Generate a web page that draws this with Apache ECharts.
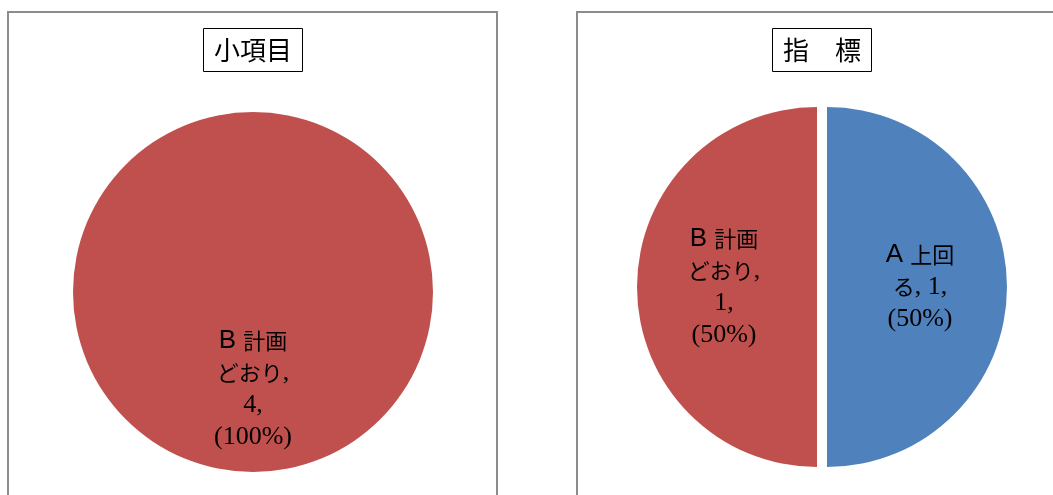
<!DOCTYPE html>
<html>
<head>
<meta charset="utf-8">
<script src="https://cdn.jsdelivr.net/npm/echarts@6/dist/echarts.min.js"></script>
<style>
html,body{margin:0;padding:0;background:#fff;}
#main{width:1053px;height:495px;}
</style>
</head>
<body>
<div id="main"></div>
<script>
// ---- data ----
const titles = ['小項目', '指　標'];
const leftNames = ['B 計画どおり'];
const leftValues = [4];
const rightNames = ['A 上回る', 'B 計画どおり'];
const rightValues = [1, 1];
const colorA = '#4F81BD';
const colorB = '#C0504D';

function toData(names, values) {
  return names.map((n, i) => ({
    name: n, value: values[i],
    itemStyle: { color: n.charAt(0) === 'A' ? colorA : colorB }
  }));
}

// wrap ASCII runs in serif rich style
function richLine(s) {
  return s.replace(/[\x20-\x7e]+/g, m => '{n|' + m + '}');
}

function labelText(p) {
  const name = p.name;
  const head = name.slice(0, 4);
  const tail = name.slice(4);
  const letter = head.charAt(0);
  const headRest = head.slice(2);
  const first = '{s|' + letter + ' }' + headRest;
  let lines;
  if (tail.length <= 1) {
    lines = [first, richLine(tail + ', ' + p.value + ','), richLine('(' + Math.round(p.percent) + '%)')];
  } else {
    lines = [first, richLine(tail + ','), richLine(p.value + ','), richLine('(' + Math.round(p.percent) + '%)')];
  }
  return lines.join('\n');
}

const labelStyle = {
  show: true,
  position: 'inside',
  formatter: labelText,
  color: '#000',
  fontSize: 22,
  lineHeight: 32,
  offset: [0, 4],
  fontFamily: "'Noto Sans CJK JP', serif",
  align: 'center',
  rich: {
    s: { fontFamily: "'Liberation Sans', Arial, sans-serif", fontSize: 26, color: '#000', lineHeight: 32 },
    n: { fontFamily: "'Liberation Serif', serif", fontSize: 26, color: '#000', lineHeight: 32 }
  }
};

const titleStyle = {
  fontFamily: "'Noto Sans CJK JP', sans-serif",
  fontSize: 26,
  fontWeight: 'normal',
  color: '#000',
  lineHeight: 32
};

const chart = echarts.init(document.getElementById('main'), null, { renderer: 'canvas' });
chart.setOption({
  animation: false,
  backgroundColor: '#fff',
  graphic: [
    { type: 'rect', shape: { x: 8, y: 12, width: 489, height: 520 }, style: { fill: 'none', stroke: '#8c8c8c', lineWidth: 2 }, silent: true },
    { type: 'rect', shape: { x: 577, y: 12, width: 520, height: 520 }, style: { fill: 'none', stroke: '#8c8c8c', lineWidth: 2 }, silent: true }
  ],
  title: [
    { text: titles[0], left: 203, top: 28, padding: [6, 11], borderWidth: 1, borderColor: '#000', textStyle: titleStyle },
    { text: titles[1], left: 772, top: 28, padding: [6, 11], borderWidth: 1, borderColor: '#000', textStyle: titleStyle }
  ],
  series: [
    {
      type: 'pie',
      center: [253, 292],
      radius: [0, 180],
      startAngle: 90,
      clockwise: true,
      silent: true,
      emphasis: { disabled: true },
      label: labelStyle,
      labelLine: { show: false },
      data: toData(leftNames, leftValues)
    },
    {
      type: 'pie',
      center: [822, 287],
      radius: [0, 180],
      startAngle: 90,
      clockwise: true,
      selectedMode: 'multiple',
      selectedOffset: 5,
      silent: true,
      emphasis: { disabled: true },
      label: labelStyle,
      labelLine: { show: false },
      data: toData(rightNames, rightValues).map(d => Object.assign(d, { selected: true }))
    }
  ]
});
</script>
</body>
</html>
